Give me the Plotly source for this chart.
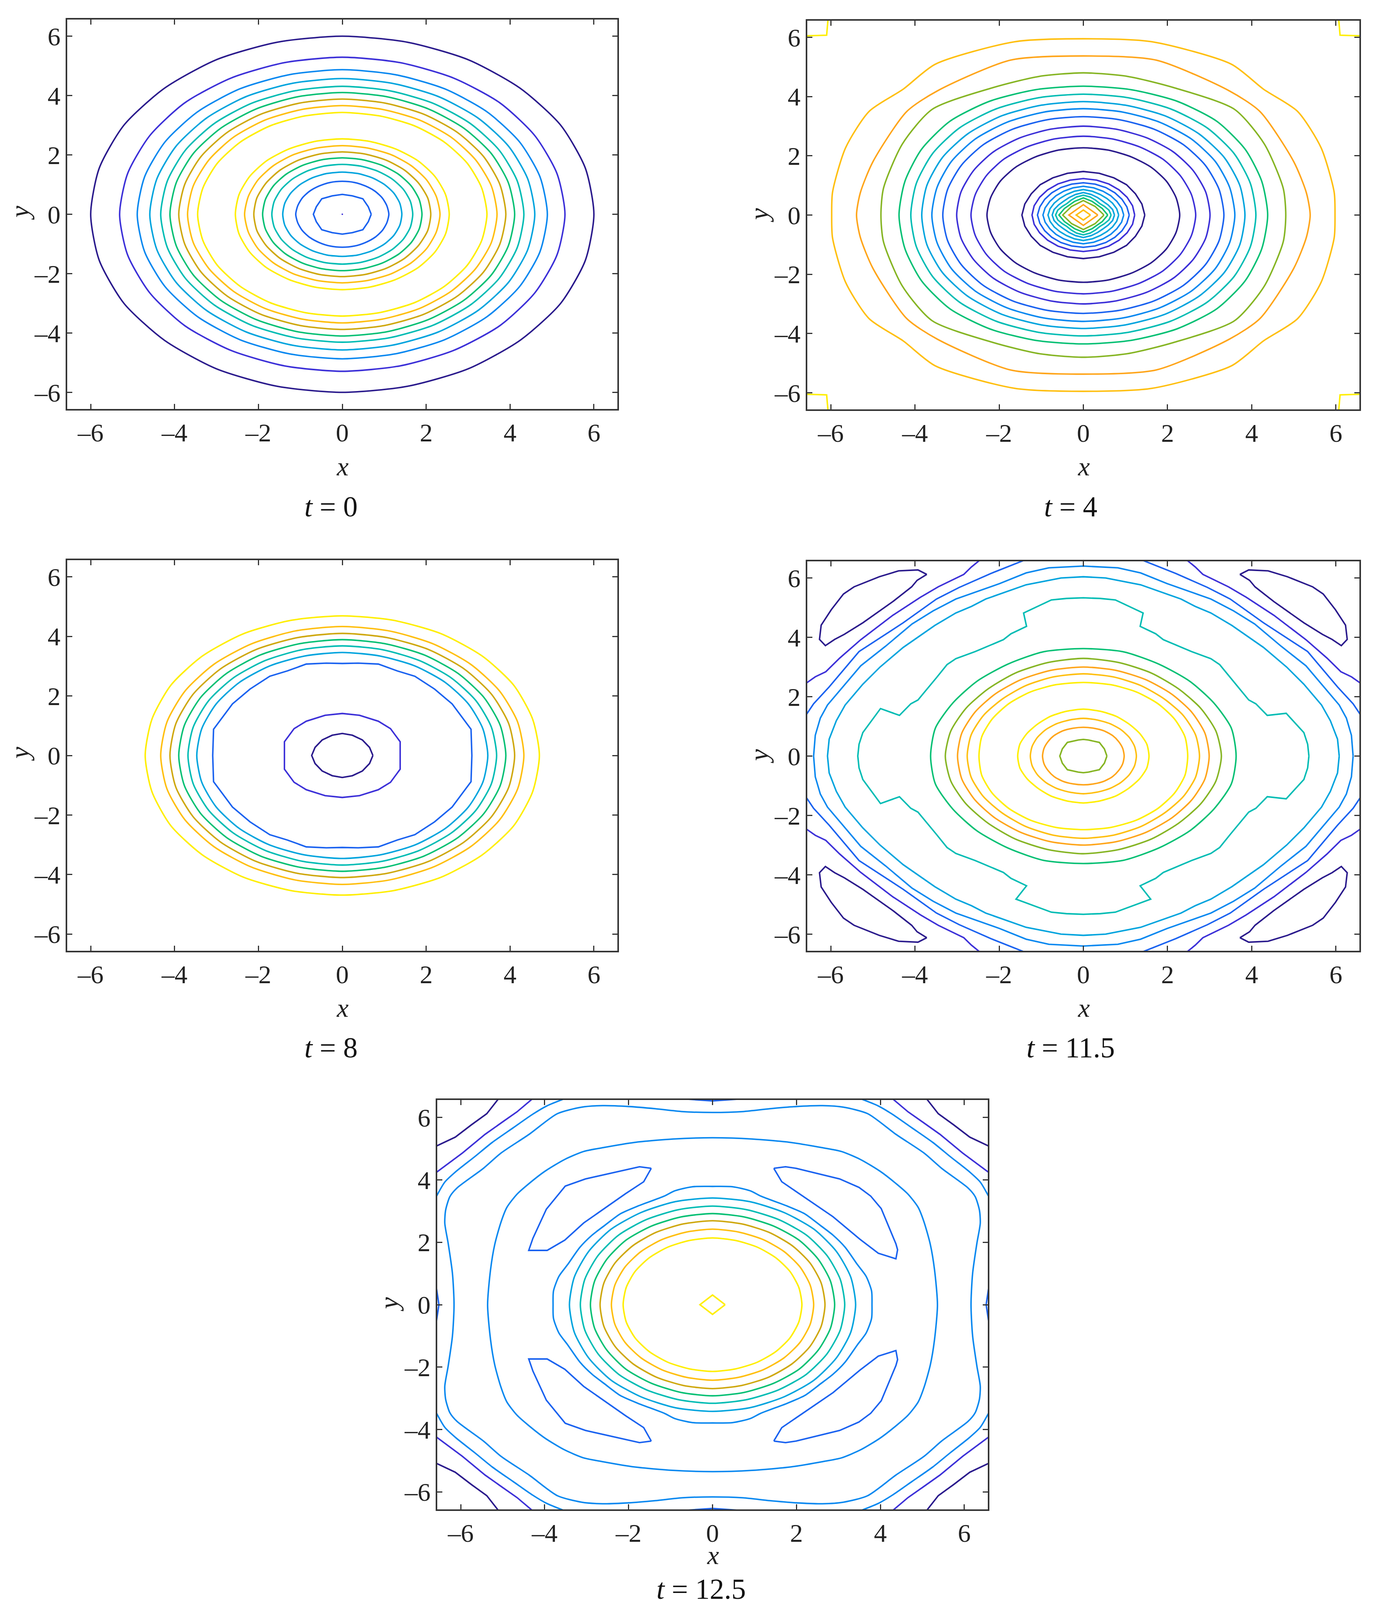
import math
import plotly.graph_objects as go

W, H = 3524, 4116
OFF = 8  # page margin of the browser body
ANGLES = [0, 15, 30, 45, 60, 75, 90]
TICKS = [-6, -4, -2, 0, 2, 4, 6]
TICK_TEXT = ["\u20136", "\u20134", "\u20132", "0", "2", "4", "6"]
PAL = dict(D="#2a1a8c", I="#3c30d8", B="#1a62f0", L="#0a88f0", C="#00a4de", T="#00bcb4",
           G="#06c074", O="#86b524", N="#cfa80f", A="#ffa51a", S="#ffbf10", Y="#ffee00")

# ---- t = 0
T0_RINGS = [
    [6.00, 6.00, 6.01, 6.00, 6.01, 6.00, 6.00], [5.31, 5.30, 5.30, 5.31, 5.30, 5.29, 5.29],
    [4.89, 4.88, 4.88, 4.88, 4.88, 4.87, 4.87], [4.59, 4.58, 4.58, 4.58, 4.58, 4.57, 4.57],
    [4.33, 4.32, 4.32, 4.32, 4.32, 4.31, 4.31], [4.11, 4.10, 4.10, 4.10, 4.10, 4.10, 4.10],
    [3.90, 3.89, 3.89, 3.89, 3.89, 3.88, 3.88], [3.69, 3.68, 3.67, 3.67, 3.67, 3.66, 3.66],
    [3.45, 3.44, 3.44, 3.44, 3.44, 3.43, 3.43], [2.55, 2.55, 2.55, 2.55, 2.54, 2.54, 2.54],
    [2.33, 2.32, 2.32, 2.32, 2.32, 2.31, 2.31], [2.11, 2.11, 2.10, 2.10, 2.10, 2.10, 2.10],
    [1.90, 1.90, 1.90, 1.90, 1.90, 1.90, 1.90], [1.68, 1.68, 1.68, 1.68, 1.68, 1.68, 1.68],
    [1.42, 1.42, 1.42, 1.42, 1.42, 1.42, 1.42], [1.11, 1.10, 1.10, 1.10, 1.10, 1.11, 1.11],
]
T0_COLORS = ["D", "I", "L", "C", "T", "G", "N", "S", "Y", "Y", "S", "N", "G", "T", "C", "B"]
T0_OCT_X = [0.69, 0.62, 0.49, 0.24, 0.0]
T0_OCT_Y = [0.0, 0.25, 0.52, 0.62, 0.67]

# ---- t = 4
T4_RINGS = [
    [0.66, 0.63, 0.58, 0.55, 0.58, 0.63, 0.67], [0.74, 0.72, 0.68, 0.66, 0.68, 0.72, 0.76],
    [0.84, 0.82, 0.80, 0.79, 0.80, 0.83, 0.86], [0.96, 0.94, 0.92, 0.92, 0.93, 0.95, 0.97],
    [1.09, 1.07, 1.06, 1.06, 1.07, 1.08, 1.09], [1.22, 1.21, 1.20, 1.20, 1.21, 1.22, 1.23],
    [1.46, 1.44, 1.43, 1.45, 1.45, 1.46, 1.47],
    [2.29, 2.28, 2.28, 2.28, 2.27, 2.27, 2.27], [2.67, 2.66, 2.66, 2.67, 2.66, 2.66, 2.66],
    [3.01, 3.01, 3.01, 3.02, 3.01, 3.00, 3.00], [3.34, 3.34, 3.35, 3.36, 3.35, 3.33, 3.32],
    [3.60, 3.60, 3.62, 3.63, 3.62, 3.60, 3.59], [3.84, 3.85, 3.87, 3.88, 3.87, 3.84, 3.83],
    [4.10, 4.11, 4.14, 4.16, 4.14, 4.10, 4.08], [4.38, 4.39, 4.44, 4.48, 4.44, 4.38, 4.35],
]
T4_COLORS = ["T", "C", "C", "L", "B", "I", "D", "D", "I", "I", "B", "L", "C", "T", "G"]
T4_DIAMOND_X = [[0.17, 0.0], [0.345, 0.0], [0.49, 0.28, 0.0], [0.58, 0.45, 0.21, 0.0]]
T4_DIAMOND_Y = [[0.0, 0.17], [0.0, 0.35], [0.0, 0.29, 0.49], [0.0, 0.22, 0.46, 0.58]]
T4_DIAMOND_COLORS = ["S", "A", "O", "G"]
T4_OUTER_X = [[4.81, 4.75, 4.30, 3.59, 2.15, 1.05, 0.0],
              [5.39, 5.30, 5.00, 4.20, 3.47, 1.73, 0.0],
              [5.98, 5.96, 5.65, 5.09, 4.28, 3.52, 1.63, 0.0]]
T4_OUTER_Y = [[0.0, 0.90, 2.40, 3.57, 4.30, 4.68, 4.80],
              [0.0, 0.75, 1.80, 3.49, 4.19, 5.23, 5.37],
              [0.0, 0.77, 2.27, 3.50, 4.25, 5.09, 5.85, 5.95]]
T4_OUTER_COLORS = ["O", "A", "S"]
T4_CORNER_X = [6.57, 6.10, 6.07]
T4_CORNER_Y = [6.05, 6.07, 6.57]

# ---- t = 8
T8_RINGS = [
    [3.47, 3.47, 3.47, 3.47, 3.47, 3.46, 3.46], [3.68, 3.68, 3.68, 3.68, 3.68, 3.68, 3.68],
    [3.90, 3.90, 3.90, 3.90, 3.90, 3.89, 3.89], [4.11, 4.11, 4.11, 4.11, 4.11, 4.10, 4.10],
    [4.33, 4.33, 4.33, 4.33, 4.33, 4.33, 4.33], [4.70, 4.70, 4.72, 4.72, 4.72, 4.70, 4.69],
]
T8_COLORS = ["C", "T", "G", "N", "S", "Y"]
T8_POLY_X = [[0.73, 0.65, 0.48, 0.24, 0.0],
             [1.38, 1.38, 1.15, 0.86, 0.41, 0.0],
             [3.09, 3.07, 2.62, 2.20, 1.73, 1.31, 0.86, 0.38, 0.0]]
T8_POLY_Y = [[0.0, 0.27, 0.52, 0.68, 0.74],
             [0.0, 0.46, 0.90, 1.15, 1.35, 1.41],
             [0.0, 0.88, 1.73, 2.23, 2.66, 2.84, 3.07, 3.10, 3.09]]
T8_POLY_COLORS = ["D", "I", "B"]

# ---- t = 11.5
T115_RINGS = [
    [0.97, 0.97, 0.97, 0.98, 0.98, 0.97, 0.97], [1.26, 1.26, 1.26, 1.26, 1.26, 1.26, 1.27],
    [1.56, 1.56, 1.54, 1.53, 1.55, 1.56, 1.58], [2.48, 2.50, 2.50, 2.50, 2.50, 2.49, 2.48],
    [2.76, 2.76, 2.74, 2.72, 2.74, 2.76, 2.77], [2.99, 2.99, 2.97, 2.96, 2.97, 2.99, 3.00],
    [3.28, 3.26, 3.22, 3.20, 3.23, 3.26, 3.29], [3.63, 3.64, 3.58, 3.57, 3.58, 3.64, 3.62],
]
T115_COLORS = ["A", "S", "Y", "Y", "S", "A", "O", "G"]
T115_INNER_X = [0.56, 0.50, 0.38, 0.12, 0.0]
T115_INNER_Y = [0.0, 0.24, 0.46, 0.54, 0.56]
T115_CROSS_X = [5.36, 5.33, 5.24, 4.82, 4.37, 4.10, 3.93, 3.49, 3.24, 3.03, 2.57, 1.90, 1.72, 1.35, 1.42, 0.76, 0.40, 0.0]
T115_CROSS_Y = [0.0, 0.40, 0.79, 1.44, 1.37, 1.76, 1.89, 2.64, 3.08, 3.28, 3.52, 3.92, 4.12, 4.37, 4.82, 5.26, 5.31, 5.33]
T115_CROSS_EAR_Y = 1.60
T115_CROSS_NOTCH_X = 1.60
T115_BIG_X = [[6.08, 6.04, 5.87, 5.66, 5.24, 4.83, 4.28, 3.53, 3.03, 2.66, 2.32, 1.36, 0.53, 0.0],
              [6.41, 6.37, 6.25, 6.08, 5.29, 4.70, 4.07, 3.57, 3.03, 1.99, 1.36, 0.82, 0.0]]
T115_BIG_Y = [[0.0, 0.57, 1.19, 1.72, 2.42, 3.00, 3.66, 4.40, 4.82, 5.04, 5.29, 5.77, 6.00, 6.04],
              [0.0, 0.70, 1.28, 1.72, 3.04, 3.70, 4.45, 4.89, 5.29, 5.81, 6.17, 6.34, 6.40]]
T115_BIG_COLORS = ["C", "L"]
T115_OPEN_X = [[1.40, 1.74, 2.20, 2.95, 3.49, 4.28, 5.33, 6.04, 6.41, 6.60],
               [2.46, 2.66, 2.84, 3.45, 3.87, 4.53, 5.29, 5.79, 6.12, 6.37, 6.60]]
T115_OPEN_Y = [[6.60, 6.41, 6.15, 5.68, 5.29, 4.49, 3.52, 2.33, 1.76, 1.36],
               [6.60, 6.37, 6.12, 5.70, 5.35, 4.74, 3.92, 3.30, 2.84, 2.67, 2.44]]
T115_OPEN_COLORS = ["B", "I"]
T115_ISLAND_X = [3.72, 3.93, 4.39, 4.85, 5.45, 5.70, 5.99, 6.23, 6.27, 6.13, 5.91, 5.68, 5.24, 4.53, 4.08, 3.95, 3.72]
T115_ISLAND_Y = [6.12, 6.27, 6.24, 6.04, 5.70, 5.46, 4.93, 4.41, 3.93, 3.72, 3.93, 4.10, 4.49, 5.20, 5.70, 5.92, 6.12]

# ---- t = 12.5
T125_RINGS = [
    [2.13, 2.13, 2.13, 2.13, 2.13, 2.13, 2.14], [2.41, 2.41, 2.41, 2.41, 2.41, 2.41, 2.42],
    [2.68, 2.68, 2.68, 2.68, 2.68, 2.68, 2.69], [2.91, 2.91, 2.91, 2.92, 2.91, 2.91, 2.92],
    [3.15, 3.15, 3.15, 3.16, 3.15, 3.15, 3.16], [3.41, 3.41, 3.41, 3.42, 3.41, 3.42, 3.42],
]
T125_COLORS = ["Y", "S", "N", "G", "T", "C"]
T125_DIAMOND_X = [0.30, 0.0]
T125_DIAMOND_Y = [0.0, 0.31]
T125_BIG_X = [[3.80, 3.79, 3.66, 3.45, 3.16, 2.87, 2.57, 2.20, 1.78, 1.15, 0.90, 0.48, 0.0],
              [5.36, 5.29, 5.19, 5.04, 4.90, 4.66, 4.41, 4.00, 3.53, 3.07, 2.62, 1.86, 0.94, 0.0],
              [6.16, 6.17, 6.20, 6.30, 6.38, 6.36, 6.26, 6.09, 5.46, 5.04, 4.37, 3.70, 3.12, 2.62, 1.99, 1.36, 0.73, 0.0]]
T125_BIG_Y = [[0.0, 0.44, 0.91, 1.29, 1.84, 2.23, 2.54, 2.91, 3.16, 3.48, 3.65, 3.78, 3.79],
              [0.0, 1.12, 1.93, 2.65, 3.12, 3.54, 3.84, 4.27, 4.65, 4.91, 5.03, 5.20, 5.31, 5.35],
              [0.0, 0.44, 1.03, 1.97, 2.61, 3.03, 3.46, 3.74, 4.37, 4.86, 5.46, 6.12, 6.33, 6.38, 6.35, 6.28, 6.19, 6.16]]
T125_OPEN_X = [[3.53, 3.95, 4.29, 4.75, 5.25, 5.67, 6.13, 6.38, 6.60],
               [4.29, 4.66, 5.00, 5.42, 5.96, 6.60],
               [5.10, 5.38, 5.75, 6.13, 6.60]]
T125_OPEN_Y = [[6.60, 6.37, 6.10, 5.67, 5.20, 4.74, 4.25, 3.93, 3.42],
               [6.60, 6.18, 5.86, 5.46, 4.86, 4.22],
               [6.60, 6.12, 5.76, 5.37, 5.07]]
T125_OPEN_COLORS = ["L", "I", "D"]
T125_EDGE_X = [[0.75, 0.0], [6.60, 6.52]]
T125_EDGE_Y = [[6.60, 6.53], [0.72, 0.0]]
T125_ISLE_R_X = [1.46, 1.74, 1.99, 3.03, 3.49, 3.77, 4.02, 4.37, 4.41, 4.37, 3.95, 3.51, 2.87, 2.11, 1.65, 1.46]
T125_ISLE_R_Y = [4.37, 4.42, 4.37, 4.03, 3.76, 3.48, 3.08, 1.95, 1.76, 1.47, 1.65, 2.10, 2.82, 3.52, 3.94, 4.37]
T125_ISLE_L_X = [1.46, 1.74, 3.03, 3.51, 3.96, 4.28, 4.38, 3.94, 3.52, 3.07, 2.07, 1.64, 1.46]
T125_ISLE_L_Y = [4.37, 4.42, 4.03, 3.80, 3.06, 2.13, 1.74, 1.74, 2.07, 2.62, 3.56, 3.94, 4.37]

# layout: frame x0, x1, y0(top), y1(bottom) in image pixels
FRAMES = [(172, 1580, 50, 1047), (2066, 3479, 53, 1048), (172, 1580, 1434, 2434),
          (2066, 3479, 1437, 2434), (1119, 2528, 2816, 3864)]
CAPTIONS = ["<i>t</i> = 0", "<i>t</i> = 4", "<i>t</i> = 8", "<i>t</i> = 11.5", "<i>t</i> = 12.5"]
CAP_POS = [(847, 1297), (2740, 1297), (847, 2682), (2740, 2682), (1795, 4068)]
XLAB_POS = [(876, 1194), (2773, 1194), (876, 2580), (2773, 2580), (1824, 3981)]
YLAB_POS = [(51, 545), (1943, 550), (51, 1930), (1943, 1935), (996, 3339)]
FONT = "Liberation Serif"
RNG = 6.56
FW, FH = W - 2 * OFF, H - 2 * OFF

fig = go.Figure()


def polar(r):
    xs = [round(a * math.cos(math.radians(t)), 3) for a, t in zip(r, ANGLES)]
    ys = [round(a * math.sin(math.radians(t)), 3) for a, t in zip(r, ANGLES)]
    return xs, ys


def loop(xq, yq):
    xr, yr = xq[::-1], yq[::-1]
    return (xq + [-v for v in xr][1:] + [-v for v in xq][1:] + xr[1:],
            yq + yr[1:] + [-v for v in yq][1:] + [-v for v in yr][1:])


def four(xs, ys, sx=(1, -1, -1, 1), sy=(1, 1, -1, -1)):
    X, Y = [], []
    for a, b in zip(sx, sy):
        X += [a * v for v in xs] + [None]
        Y += [b * v for v in ys] + [None]
    return X, Y


def add(p, x, y, col, smooth=True):
    fig.add_trace(go.Scatter(
        x=x, y=y, mode="lines", xaxis=f"x{p}", yaxis=f"y{p}", showlegend=False, hoverinfo="skip",
        line=dict(color=PAL[col], width=3.8, shape="spline" if smooth else "linear",
                  **({"smoothing": 0.7} if smooth else {}))))


def rings(p, radii, colors, smooth=True):
    for r, c in zip(radii, colors):
        add(p, *loop(*polar(r)), c, smooth)


def polys(p, xs, ys, colors, smooth=False):
    for a, b, c in zip(xs, ys, colors):
        add(p, *loop(a, b), c, smooth)


# t = 0
rings(1, T0_RINGS, T0_COLORS)
add(1, *loop(T0_OCT_X, T0_OCT_Y), "B", False)
fig.add_trace(go.Scatter(x=[0], y=[0], mode="markers", xaxis="x1", yaxis="y1", showlegend=False,
                         hoverinfo="skip", marker=dict(color=PAL["I"], size=4)))
# t = 4
polys(2, T4_DIAMOND_X, T4_DIAMOND_Y, T4_DIAMOND_COLORS)
rings(2, T4_RINGS[:7], T4_COLORS[:7], smooth=False)
rings(2, T4_RINGS[7:], T4_COLORS[7:], smooth=True)
polys(2, T4_OUTER_X, T4_OUTER_Y, T4_OUTER_COLORS, smooth=True)
add(2, *four(T4_CORNER_X, T4_CORNER_Y), "Y", False)
# t = 8
polys(3, T8_POLY_X, T8_POLY_Y, T8_POLY_COLORS)
rings(3, T8_RINGS, T8_COLORS, smooth=True)
# t = 11.5
add(4, *loop(T115_INNER_X, T115_INNER_Y), "O", False)
rings(4, T115_RINGS, T115_COLORS)
# the four quadrants of the cross differ slightly at the ear and the notch
cx, cy = T115_CROSS_X, T115_CROSS_Y
cy_left = [T115_CROSS_EAR_Y if i == 3 else v for i, v in enumerate(cy)]
cx_low = [T115_CROSS_NOTCH_X if i == 14 else v for i, v in enumerate(cx)]
cross_x = cx + [-v for v in cx[::-1]][1:] + [-v for v in cx_low][1:] + cx_low[::-1][1:]
cross_y = cy + cy_left[::-1][1:] + [-v for v in cy_left][1:] + [-v for v in cy[::-1]][1:]
add(4, cross_x, cross_y, "T", False)
polys(4, T115_BIG_X, T115_BIG_Y, T115_BIG_COLORS)
for a, b, c in zip(T115_OPEN_X, T115_OPEN_Y, T115_OPEN_COLORS):
    add(4, *four(a, b), c, False)
add(4, *four(T115_ISLAND_X, T115_ISLAND_Y), "D", False)
# t = 12.5
add(5, *loop(T125_DIAMOND_X, T125_DIAMOND_Y), "Y", False)
rings(5, T125_RINGS, T125_COLORS)
for a, b in zip(T125_BIG_X, T125_BIG_Y):
    add(5, *loop(a, b), "L", True)
for a, b, c in zip(T125_OPEN_X, T125_OPEN_Y, T125_OPEN_COLORS):
    add(5, *four(a, b), c, c == "L")
for a, b in zip(T125_EDGE_X, T125_EDGE_Y):
    add(5, *four(a, b), "B", False)
add(5, *four(T125_ISLE_R_X, T125_ISLE_R_Y, sx=(1, 1), sy=(1, -1)), "B", False)
add(5, *four(T125_ISLE_L_X, T125_ISLE_L_Y, sx=(-1, -1), sy=(1, -1)), "B", False)

layout = dict(width=FW, height=FH, autosize=False, margin=dict(l=0, r=0, t=0, b=0),
              paper_bgcolor="white", plot_bgcolor="white", showlegend=False)
ax = dict(range=[-RNG, RNG], tickmode="array", tickvals=TICKS, ticktext=TICK_TEXT, ticks="inside",
          ticklen=13, tickwidth=3, tickcolor="#333333", showline=True, linecolor="#333333", linewidth=4,
          mirror="ticks", showgrid=False, zeroline=False,
          tickfont=dict(family=FONT, size=66, color="#222222"))


def px(v):
    return (v - OFF) / FW


def py(v):
    return 1 - (v - OFF) / FH


for i, (x0, x1, y0, y1) in enumerate(FRAMES, 1):
    layout[f"xaxis{i}"] = dict(ax, domain=[px(x0), px(x1)], anchor=f"y{i}", ticklabelstandoff=0)
    layout[f"yaxis{i}"] = dict(ax, domain=[py(y1), py(y0)], anchor=f"x{i}", ticklabelstandoff=0)

ann = []
for cap, cp, xp, yp in zip(CAPTIONS, CAP_POS, XLAB_POS, YLAB_POS):
    common = dict(xref="paper", yref="paper", showarrow=False, xanchor="center", yanchor="middle")
    ann.append(dict(common, text=cap, x=px(cp[0]), y=py(cp[1]),
                    font=dict(family=FONT, size=74, color="#111111")))
    ann.append(dict(common, text="<i>x</i>", x=px(xp[0]), y=py(xp[1]),
                    font=dict(family=FONT, size=68, color="#222222")))
    ann.append(dict(common, text="<i>y</i>", x=px(yp[0]), y=py(yp[1]), textangle=-90,
                    font=dict(family=FONT, size=68, color="#222222")))
layout["annotations"] = ann
fig.update_layout(**layout)
fig.write_html("out.html")
